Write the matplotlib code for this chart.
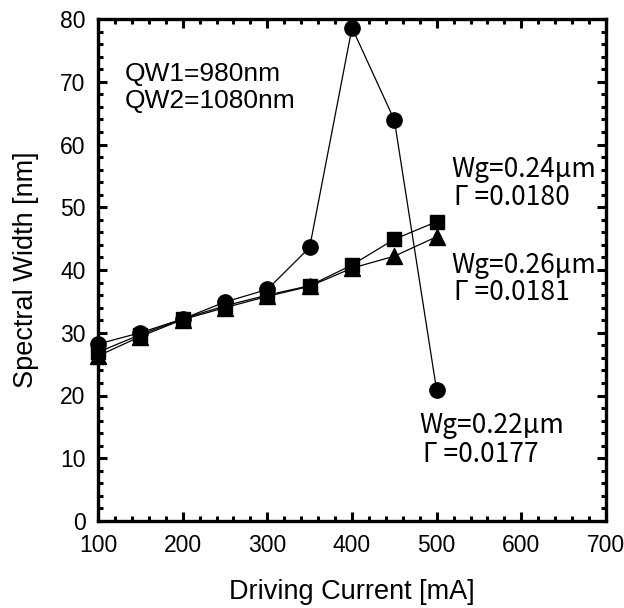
import matplotlib
matplotlib.use("Agg")
import matplotlib.pyplot as plt
from matplotlib.ticker import MultipleLocator

plt.rcParams['font.family'] = ['Liberation Sans', 'DejaVu Sans']

current = [100, 150, 200, 250, 300, 350, 400, 450, 500]
width_022 = [28.2, 30.0, 32.2, 34.9, 36.9, 43.6, 78.6, 63.9, 20.8]
width_024 = [26.9, 29.7, 32.2, 34.3, 36.0, 37.5, 40.8, 44.9, 47.7]
width_026 = [26.3, 29.4, 32.1, 34.0, 35.8, 37.4, 40.3, 42.2, 45.3]

x_ticks = [100, 200, 300, 400, 500, 600, 700]
y_ticks = [0, 10, 20, 30, 40, 50, 60, 70, 80]

fig = plt.figure(figsize=(6.24, 6.08), dpi=100)
ax = fig.add_axes([98/624, 1 - 521/608, 508/624, 502/608])

line_kw = dict(color='black', linewidth=0.9, markeredgecolor='black',
               markerfacecolor='black', clip_on=False, zorder=3)
ax.plot(current, width_022, marker='o', markersize=11, **line_kw)
ax.plot(current, width_024, marker='s', markersize=10.5, **line_kw)
ax.plot(current, width_026, marker='^', markersize=11, **line_kw)

ax.set_xlim(100, 700)
ax.set_ylim(0, 80)
ax.set_xticks(x_ticks)
ax.set_yticks(y_ticks)
ax.xaxis.set_minor_locator(MultipleLocator(20))
ax.yaxis.set_minor_locator(MultipleLocator(2))
ax.tick_params(which='both', direction='in', top=True, right=True,
               labelsize=16.5, width=2.2, color='black')
ax.tick_params(which='major', length=6.5, pad=9)
ax.tick_params(which='minor', length=3.5)
for s in ax.spines.values():
    s.set_linewidth(2.4)

ax.set_xlabel('Driving Current [mA]', fontsize=19.5, labelpad=16)
ax.set_ylabel('Spectral Width [nm]', fontsize=19.5, labelpad=15)

txt = dict(transform=ax.transData, fontsize=19, va='baseline', ha='left')
ax.text(132, 70.1, 'QW1=980nm', **txt)
ax.text(132, 65.8, 'QW2=1080nm', **txt)

gothic = ['Noto Sans CJK JP', 'DejaVu Sans']
lab = dict(fontsize=19, va='baseline', ha='left', family=gothic)
ax.text(517, 54.8, 'Wg=0.24\u03bcm', **lab)
ax.text(520, 50.4, '\u0393 =0.0180', **lab)
ax.text(517, 39.5, 'Wg=0.26\u03bcm', **lab)
ax.text(520, 35.2, '\u0393 =0.0181', **lab)
ax.text(480, 14.0, 'Wg=0.22\u03bcm', **lab)
ax.text(484, 9.4, '\u0393 =0.0177', **lab)

fig.savefig('out.png', dpi=100)
